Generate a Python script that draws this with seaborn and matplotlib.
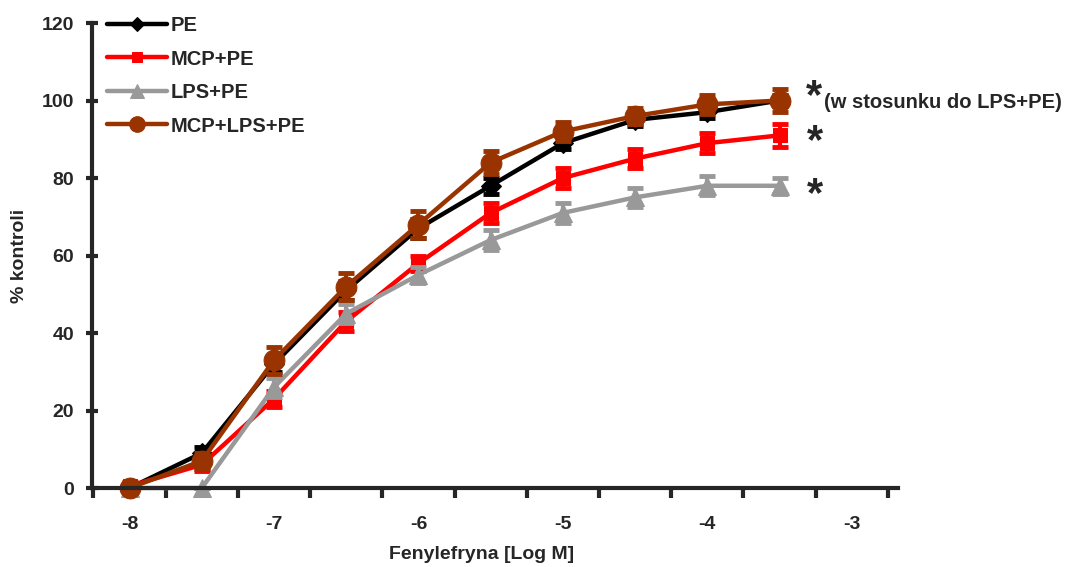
import numpy as np
import pandas as pd
import matplotlib
matplotlib.use("Agg")
import matplotlib.pyplot as plt
import seaborn as sns

# ---- data ----
log_conc = [-8, -7.5, -7, -6.5, -6, -5.5, -5, -4.5, -4, -3.5]
series_names = ["PE", "MCP+PE", "LPS+PE", "MCP+LPS+PE"]
pe = [0, 9, 32, 51, 67, 78, 89, 95, 97, 100]
pe_err = [0.5, 1.5, 2, 2.5, 2.5, 2, 1.5, 1.5, 1.5, 1.5]
mcp_pe = [0.5, 6, 23, 43, 58, 71, 80, 85, 89, 91]
mcp_pe_err = [1, 1.5, 2, 2.5, 2, 2.5, 2.5, 2.5, 2.5, 3]
lps_pe = [0, 0, 26, 45, 55, 64, 71, 75, 78, 78]
lps_pe_err = [0, 0, 2.5, 2.5, 2, 2.5, 2.5, 2.5, 2.5, 2]
mcp_lps_pe = [0, 7, 33, 52, 68, 84, 92, 96, 99, 100]
mcp_lps_pe_err = [1, 2, 3.5, 3.5, 3.5, 3, 2.5, 2, 2.5, 3]
y_ticks = [0, 20, 40, 60, 80, 100, 120]
x_ticks = [-8, -7, -6, -5, -4, -3]

values = [pe, mcp_pe, lps_pe, mcp_lps_pe]
errors = [pe_err, mcp_pe_err, lps_pe_err, mcp_lps_pe_err]
colors = ["#000000", "#FF0000", "#999999", "#993300"]
markers = ["D", "s", "^", "o"]
msizes = [10, 10, 13, 15]

sns.set_style("ticks")
plt.rcParams["font.family"] = ["Liberation Sans", "DejaVu Sans"]
plt.rcParams["font.weight"] = "bold"
plt.rcParams["axes.unicode_minus"] = False

FS = 14

fig = plt.figure(figsize=(10.71, 5.67), dpi=100)
ax = fig.add_axes([0.0859, 0.1393, 0.7526, 0.8201])

for name, v, e, c, m, ms in zip(series_names, values, errors, colors, markers, msizes):
    ax.errorbar(log_conc, v, yerr=e, fmt="none", ecolor=c, elinewidth=3,
                capsize=6, capthick=3.5, clip_on=False)
    sns.lineplot(x=log_conc, y=v, ax=ax, color=c, marker=m, markersize=ms,
                 markeredgecolor=c, linewidth=3.2, label=name, clip_on=False)

ax.set_xlim(-8.26, -2.68)
ax.set_ylim(0, 120)
ax.set_yticks(y_ticks)
ax.set_xticks(x_ticks)
ax.set_xticks(np.arange(-8.25, -2.6, 0.5), minor=True)
ax.tick_params(axis="x", which="major", length=0, pad=20, labelsize=FS)
ax.tick_params(axis="x", which="minor", length=7, width=3, direction="out")
ax.tick_params(axis="y", which="major", length=8, width=3, direction="inout", pad=9, labelsize=FS)
for lab in ax.get_xticklabels() + ax.get_yticklabels():
    lab.set_fontweight("bold")

sns.despine(ax=ax)
for sp in ["left", "bottom"]:
    ax.spines[sp].set_linewidth(3)

ax.set_xlabel("Fenylefryna [Log M]", fontsize=FS, fontweight="bold", labelpad=10)
ax.xaxis.set_label_coords(0.483, -0.125)
ax.set_ylabel("% kontroli", fontsize=FS, fontweight="bold", labelpad=10)

leg = ax.legend(loc="upper left", bbox_to_anchor=(0.018, 1.015), frameon=False,
                borderaxespad=0, borderpad=0, handlelength=3.0, handletextpad=0.2,
                labelspacing=0.72, markerscale=0.75,
                prop={"weight": "bold", "size": 14.5})

ax.text(-3.32, 95.8, "*", fontsize=30, fontweight="bold", ha="left", va="bottom", clip_on=False)
ax.text(-3.19, 99.5, "(w stosunku do LPS+PE)", fontsize=14.5, fontweight="bold",
        ha="left", va="center", clip_on=False)
ax.text(-3.31, 84.0, "*", fontsize=30, fontweight="bold", ha="left", va="bottom", clip_on=False)
ax.text(-3.31, 70.4, "*", fontsize=30, fontweight="bold", ha="left", va="bottom", clip_on=False)

fig.savefig("out.png", dpi=100)
